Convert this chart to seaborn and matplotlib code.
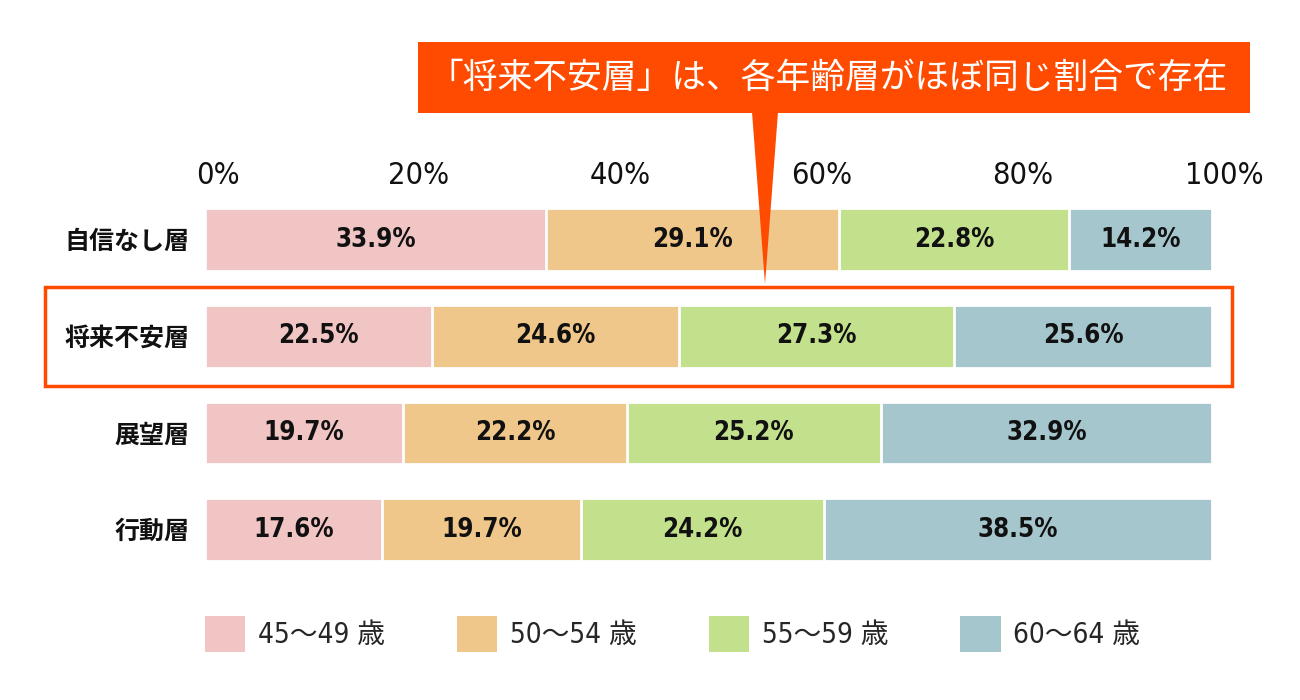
import numpy as np
import pandas as pd
import matplotlib
matplotlib.use("Agg")
import matplotlib.pyplot as plt
import matplotlib.patches as mpatches
import matplotlib.transforms as mtransforms
import seaborn as sns

sns.set_theme(style="white")
plt.rcParams['font.family'] = ['DejaVu Sans', 'Noto Sans CJK JP']

categories = ["自信なし層", "将来不安層", "展望層", "行動層"]
age_groups = ["45〜49 歳", "50〜54 歳", "55〜59 歳", "60〜64 歳"]
age_45_49 = [33.9, 22.5, 19.7, 17.6]
age_50_54 = [29.1, 24.6, 22.2, 19.7]
age_55_59 = [22.8, 27.3, 25.2, 24.2]
age_60_64 = [14.2, 25.6, 32.9, 38.5]
tick_values = [0, 20, 40, 60, 80, 100]
tick_labels = ["0%", "20%", "40%", "60%", "80%", "100%"]
colors = ["#F0C5C4", "#F0C78A", "#C3E18C", "#A6C6CE"]
accent = "#FF4B00"
headline = "「将来不安層」は、各年齢層がほぼ同じ割合で存在"
highlight_row = "将来不安層"

series = [age_45_49, age_50_54, age_55_59, age_60_64]
df = pd.DataFrame({g: s for g, s in zip(age_groups, series)}, index=categories)
cum = df.cumsum(axis=1)

W, H = 1300, 700
fig = plt.figure(figsize=(W / 100, H / 100), dpi=100)
ax = fig.add_axes([205 / W, 1 - 578 / H, 1007 / W, (578 - 191.5) / H])

# stacked bars: draw cumulative totals from largest to smallest
for g, c in reversed(list(zip(age_groups, colors))):
    sns.barplot(x=cum[g].values, y=categories, color=c, saturation=1,
                width=0.65, edgecolor="white", linewidth=2, orient="h", ax=ax)

# value labels
for i, cat in enumerate(categories):
    for g in age_groups:
        v = df.loc[cat, g]
        center = cum.loc[cat, g] - v / 2
        ax.text(center, i, f"{v:.1f}%", ha="center", va="center",
                fontsize=18.5, fontweight="bold", fontstretch="condensed",
                family=['DejaVu Sans', 'Noto Sans CJK JP'], color="#111111")

ax.set_xlim(0, 100)
ax.set_ylim(3.5, -0.5)
ax.set_xlabel("")
ax.set_ylabel("")
ax.xaxis.tick_top()
ax.set_xticks(tick_values)
ax.set_xticklabels(tick_labels, fontsize=22, fontstretch="condensed")
ax.tick_params(axis="x", length=0, pad=1, colors="#111111")
offset = mtransforms.ScaledTranslation(9 / 72, 0, fig.dpi_scale_trans)
for tick in ax.xaxis.get_major_ticks():
    tick.label2.set_transform(tick.label2.get_transform() + offset)
ax.tick_params(axis="y", length=0, pad=11)
for lab in ax.get_yticklabels():
    lab.set_family(['Noto Sans CJK JP'])
    lab.set_fontweight("bold")
    lab.set_fontsize(18)
    lab.set_color("#111111")
for s in ax.spines.values():
    s.set_visible(False)

# highlight box around the focus row
ri = categories.index(highlight_row)
trans = mtransforms.blended_transform_factory(ax.transAxes, ax.transData)
x0 = (45 - 205) / 1007
x1 = (1232 - 205) / 1007
ax.add_patch(mpatches.Rectangle((x0, ri - 0.51), x1 - x0, 1.02, transform=trans,
                                fill=False, edgecolor=accent, linewidth=2.5,
                                clip_on=False, zorder=5))

# callout box
def fx(px):
    return px / W

def fy(py):
    return 1 - py / H

fig.patches.append(mpatches.Rectangle((fx(418), fy(113)), fx(1250) - fx(418), fy(42) - fy(113),
                                      transform=fig.transFigure, facecolor=accent,
                                      edgecolor="none", zorder=3))
fig.patches.append(mpatches.Polygon([(fx(752), fy(112)), (fx(778), fy(112)), (fx(765), fy(284))],
                                    closed=True, transform=fig.transFigure,
                                    facecolor=accent, edgecolor="none", zorder=3))
fig.text(fx(828), fy(78), headline, ha="center", va="center", color="white",
         fontsize=25, family=['Noto Sans CJK JP', 'DejaVu Sans'], zorder=4)

# legend
handles = [mpatches.Patch(facecolor=c, edgecolor="none") for c in colors]
leg = fig.legend(handles, age_groups, loc="center left",
                 bbox_to_anchor=(fx(205), fy(634)), ncol=4, frameon=False,
                 handlelength=1.45, handleheight=1.6, handletextpad=0.45,
                 columnspacing=2.6, borderpad=0, borderaxespad=0,
                 prop={"size": 20, "family": ['DejaVu Sans', 'Noto Sans CJK JP'],
                       "stretch": "condensed"})

fig.savefig("out.png", dpi=100, facecolor="white")
